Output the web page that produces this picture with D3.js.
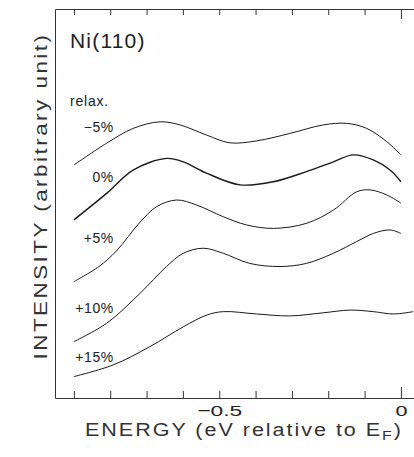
<!DOCTYPE html>
<html><head><meta charset="utf-8">
<script src="https://cdn.jsdelivr.net/npm/d3@7"></script>
<style>
html,body{margin:0;padding:0;background:#fff;}
svg text{font-family:"Liberation Sans",Arial,Helvetica,sans-serif;fill:#222;font-weight:normal;}
</style></head>
<body><svg id="c" width="414" height="457"></svg>
<script>
// ---- data (energy in eV relative to E_F, intensity in arbitrary units) ----
const seriesNames = ["−5%", "0%", "+5%", "+10%", "+15%"];
const relaxMinus5 = [[-0.90,5.99],[-0.81,6.55],[-0.737,6.93],[-0.663,7.10],[-0.608,7.02],[-0.535,6.76],[-0.471,6.56],[-0.397,6.61],[-0.306,6.80],[-0.214,7.02],[-0.149,7.06],[-0.094,6.93],[-0.039,6.59],[0.0,6.25]];
const relax0 = [[-0.90,4.58],[-0.81,5.26],[-0.737,5.86],[-0.645,6.16],[-0.599,6.07],[-0.535,5.78],[-0.443,5.48],[-0.351,5.56],[-0.26,5.82],[-0.186,6.07],[-0.131,6.25],[-0.076,6.12],[-0.03,5.86],[0.0,5.56]];
const relaxPlus5 = [[-0.90,2.99],[-0.831,3.38],[-0.783,3.78],[-0.718,4.52],[-0.672,4.92],[-0.617,5.09],[-0.562,4.96],[-0.489,4.66],[-0.425,4.45],[-0.351,4.36],[-0.26,4.49],[-0.186,4.83],[-0.122,5.30],[-0.085,5.35],[-0.039,5.22],[0.0,5.01]];
const relaxPlus10 = [[-0.90,1.45],[-0.81,1.92],[-0.718,2.69],[-0.645,3.38],[-0.599,3.72],[-0.544,3.85],[-0.489,3.72],[-0.416,3.46],[-0.333,3.38],[-0.26,3.46],[-0.186,3.72],[-0.122,4.02],[-0.076,4.23],[-0.03,4.32],[0.0,4.23]];
const relaxPlus15 = [[-0.90,0.55],[-0.792,0.85],[-0.691,1.32],[-0.599,1.83],[-0.535,2.13],[-0.489,2.22],[-0.397,2.16],[-0.306,2.11],[-0.214,2.19],[-0.14,2.26],[-0.076,2.22],[-0.021,2.16],[0.034,2.22]];
const labelEnergy = -0.79;
const labelIntensity = [6.85, 5.56, 3.98, 2.19, 0.93];
const xTicks = [-0.9,-0.8,-0.7,-0.6,-0.5,-0.4,-0.3,-0.2,-0.1,0];
const xTickLabels = {"-0.5":"−0.5","0":"0"};

const allSeries = [relaxMinus5, relax0, relaxPlus5, relaxPlus10, relaxPlus15];
const strokeW = [1, 1.4, 1, 1, 1];

const svg = d3.select("#c");
const x = d3.scaleLinear().domain([-0.952, 0.036]).range([55, 414]);
const y = d3.scaleLinear().domain([0, 10]).range([398, 9]);

// axes
const axBottom = svg.append("g").attr("transform","translate(0,398)")
  .call(d3.axisBottom(x).tickValues(xTicks).tickSizeInner(-7).tickSizeOuter(0).tickPadding(7)
    .tickFormat(d => xTickLabels[String(d)] || ""));
axBottom.selectAll(".tick line").filter(d => d === 0).attr("y2", -11);
axBottom.selectAll("text").style("font-size","15.5px")
  .attr("textLength", d => d===-0.5 ? 45 : (d===0 ? 12 : null))
  .attr("lengthAdjust","spacingAndGlyphs");

const axTop = svg.append("g").attr("transform","translate(0,9)")
  .call(d3.axisTop(x).tickValues(xTicks).tickSizeInner(-6).tickSizeOuter(0).tickFormat(""));
axTop.selectAll(".tick line").filter(d => d === 0).attr("y2", 10);

const axLeft = svg.append("g").attr("transform","translate(55,0)")
  .call(d3.axisLeft(y).tickValues([]).tickSizeOuter(0));

svg.selectAll(".domain, .tick line").attr("stroke","#333").attr("stroke-width",1);

// curves
const line = d3.line().x(d => x(d[0])).y(d => y(d[1])).curve(d3.curveCatmullRom.alpha(0.5));
svg.append("g").selectAll("path").data(allSeries).join("path")
  .attr("d", line).attr("fill","none").attr("stroke","#1a1a1a")
  .attr("stroke-width", (d,i) => strokeW[i]);

// series labels
svg.append("g").selectAll("text").data(seriesNames).join("text")
  .attr("x", x(labelEnergy)).attr("y", (d,i) => y(labelIntensity[i]))
  .attr("text-anchor","end").style("font-size","14px").style("letter-spacing","0.6px")
  .text(d => d);

svg.append("text").attr("x",70).attr("y",106).style("font-size","14px").style("letter-spacing","0.8px").text("relax.");
svg.append("text").attr("x",70).attr("y",48).style("font-size","21px").style("letter-spacing","1.2px").text("Ni(110)");

// axis titles
const xt = svg.append("text").attr("x",85).attr("y",436).style("font-size","17.5px")
  .style("letter-spacing","1.6px").style("fill","#333")
  .attr("textLength",318).attr("lengthAdjust","spacingAndGlyphs");
xt.append("tspan").text("ENERGY (eV relative to E");
xt.append("tspan").attr("dy",4).style("font-size","13px").text("F");
xt.append("tspan").attr("dy",-4).text(")");

svg.append("text").attr("transform","translate(47,196) rotate(-90)")
  .attr("text-anchor","middle").style("font-size","18px")
  .style("letter-spacing","2px").style("fill","#333")
  .attr("textLength",327).attr("lengthAdjust","spacingAndGlyphs")
  .text("INTENSITY (arbitrary unit)");
</script></body></html>
